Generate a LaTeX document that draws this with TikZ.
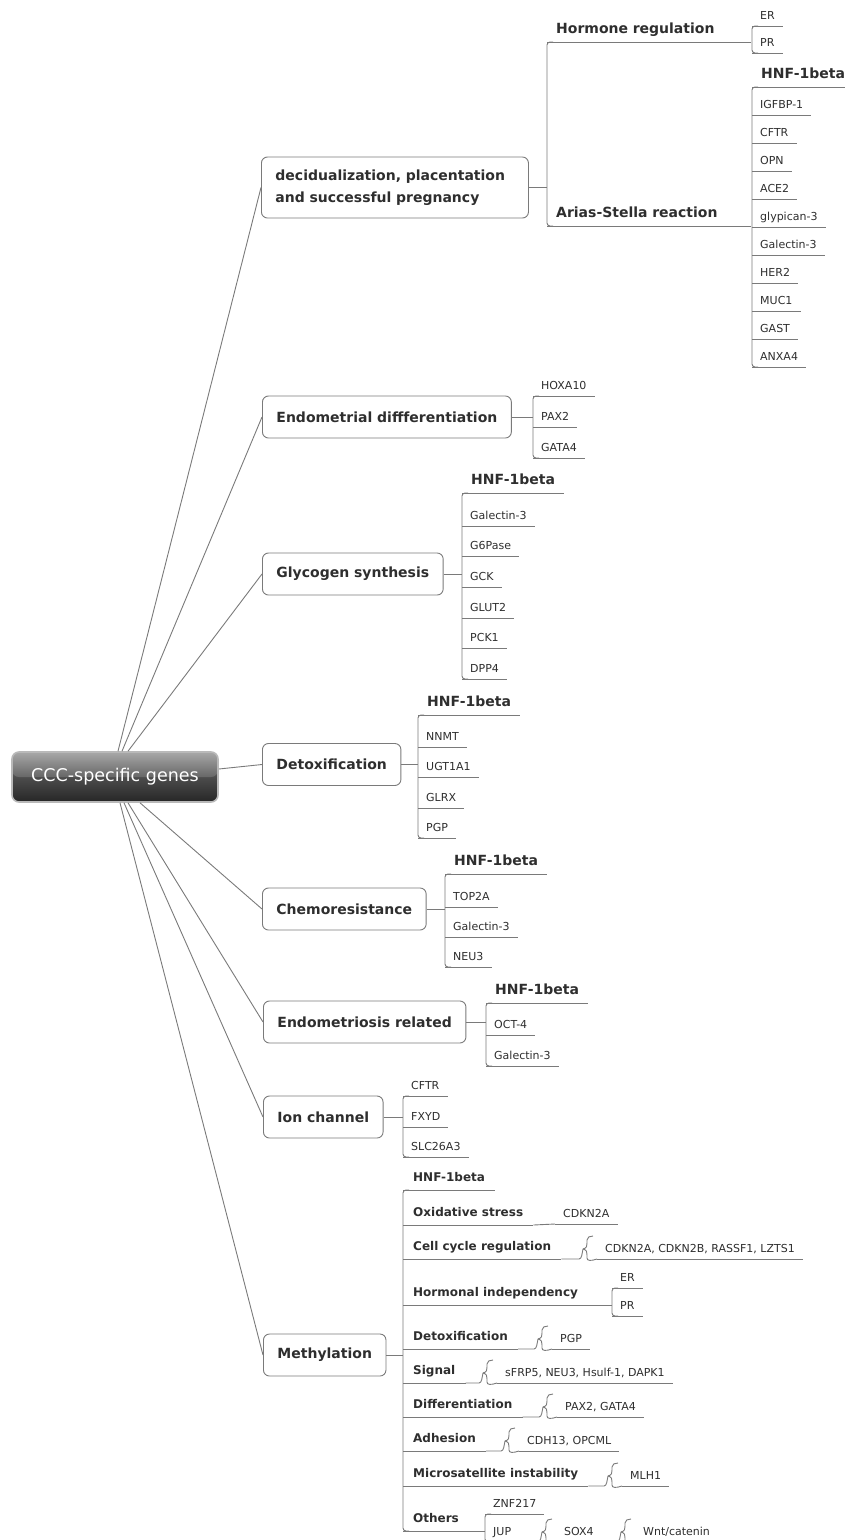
\documentclass[tikz,border=0pt]{standalone}
\usepackage{fontspec}
\setmainfont{DejaVu Sans}

\definecolor{linegray}{HTML}{7A7A7A}
\definecolor{txtgray}{HTML}{2E2E2E}
\newcommand{\rtfont}{\fontsize{17.5}{20}\selectfont}
\newcommand{\bxfont}{\fontsize{14}{22}\selectfont\bfseries}
\newcommand{\tpfont}{\fontsize{14}{16}\selectfont\bfseries}
\newcommand{\mtfont}{\fontsize{12}{14}\selectfont\bfseries}
\newcommand{\gnfont}{\fontsize{11}{13}\selectfont}

\tikzset{
  conn/.style={draw=linegray, line width=0.9pt},
  ul/.style={append after command={(\tikzlastnode.south west) edge[conn] (\tikzlastnode.south east)}},
  rootbox/.style={rounded corners=7pt, draw=gray!55, line width=1.6pt,
    top color=black!40, bottom color=black!85, middle color=black!70,
    text=white, font=\rtfont, minimum width=206pt, minimum height=50pt,
    path picture={\fill[white, opacity=0.15] (path picture bounding box.north west) rectangle (path picture bounding box.east);}},
  branch/.style={conn, rounded corners=6pt, fill=white, text=txtgray, font=\bxfont,
    inner xsep=14pt, minimum height=42pt, anchor=west},
  topic/.style={anchor=south west, text=txtgray, font=\tpfont, inner xsep=9pt,
    inner ysep=4pt, text height=11pt, text depth=4pt, ul},
  mtopic/.style={topic, font=\mtfont, inner xsep=10pt, text height=9.5pt},
  gene/.style={anchor=south west, text=txtgray, font=\gnfont, inner xsep=8pt,
    inner ysep=3.5pt, text height=8.5pt, text depth=2.5pt, ul}
}

% vertical bar joining the underlines of a list
\newcommand{\spine}[2]{\draw[conn, rounded corners=3pt] ([xshift=6pt]#1.south west) -- (#1.south west) -- (#2.south west) -- ([xshift=6pt]#2.south west);}
% curly joint from a topic to its single child
\newcommand{\mbrace}[2]{%
  \begin{scope}[shift={(#2.south west)}]
    \draw[conn] (#1.south east) -- (-18,0) .. controls (-15,0) and (-15,-6) .. (-14,-10)
      .. controls (-10,-11) and (-10,-13) .. (-10,-16) -- (-10,-19)
      .. controls (-10,-22) and (-7,-23) .. (-4,-23);
    \draw[conn] (-14,-10) .. controls (-10,-9) and (-10,-7) .. (-10,-4) -- (-10,-1)
      .. controls (-10,2) and (-6,2) .. (0,0);
  \end{scope}}

\begin{document}
\begin{tikzpicture}[x=1pt, y=-1pt]
\useasboundingbox (0,0) rectangle (845,1540);
\clip (0,0) rectangle (845,1540);

% centre
\node[rootbox] (root) at (115,777) {CCC-specific genes};

% main branches
\node[branch, text width=239pt, align=left, minimum height=61pt] (decid) at (261,187.5) {decidualization, placentation\\and successful pregnancy};
\node[branch] (endo) at (262,417) {Endometrial diffferentiation};
\node[branch] (glyc) at (262,574) {Glycogen synthesis};
\node[branch] (detox) at (262,764.5) {Detoxification};
\node[branch] (chemo) at (262,909) {Chemoresistance};
\node[branch] (endm) at (263,1022) {Endometriosis related};
\node[branch] (ion) at (263,1117) {Ion channel};
\node[branch] (meth) at (263,1355) {Methylation};

\draw[conn] ([xshift=3pt]root.north) -- (decid.west);
\draw[conn] ([xshift=7pt]root.north) -- (endo.west);
\draw[conn] ([xshift=13pt]root.north) -- (glyc.west);
\draw[conn] ([yshift=8pt]root.east) -- (detox.west);
\draw[conn] ([xshift=25pt]root.south) -- (chemo.west);
\draw[conn] ([xshift=13pt]root.south) -- (endm.west);
\draw[conn] ([xshift=9pt]root.south) -- (ion.west);
\draw[conn] ([xshift=5pt]root.south) -- (meth.west);

% decidualization
\node[topic, text width=186pt] (horm) at (547,42) {Hormone regulation};
\node[topic, text width=186pt] (arias) at (547,226) {Arias-Stella reaction};
\spine{horm}{arias}
\draw[conn] (decid.east) -- (decid.east -| horm.south west);
\node[gene] (era) at (752,26) {ER};
\node[gene] (pra) at (752,53) {PR};
\spine{era}{pra}
\node[topic] (hnfa) at (752,87) {HNF-1beta};
\node[gene] (igfbp) at (752,115) {IGFBP-1};
\node[gene] (cftra) at (752,143) {CFTR};
\node[gene] (opn) at (752,171) {OPN};
\node[gene] (ace) at (752,199) {ACE2};
\node[gene] (glyp) at (752,227) {glypican-3};
\node[gene] (gala) at (752,255) {Galectin-3};
\node[gene] (her) at (752,283) {HER2};
\node[gene] (muc) at (752,311) {MUC1};
\node[gene] (gast) at (752,339) {GAST};
\node[gene] (anxa) at (752,367) {ANXA4};
\spine{hnfa}{anxa}

% endometrial differentiation
\node[gene] (hoxa) at (533,396) {HOXA10};
\node[gene] (paxa) at (533,427) {PAX2};
\node[gene] (gataa) at (533,458) {GATA4};
\spine{hoxa}{gataa}
\draw[conn] (endo.east) -- (endo.east -| hoxa.south west);

% glycogen synthesis
\node[topic] (hnfb) at (462,493) {HNF-1beta};
\node[gene] (galb) at (462,526) {Galectin-3};
\node[gene] (g6p) at (462,556) {G6Pase};
\node[gene] (gck) at (462,587) {GCK};
\node[gene] (glut) at (462,618) {GLUT2};
\node[gene] (pck) at (462,648) {PCK1};
\node[gene] (dpp) at (462,679) {DPP4};
\spine{hnfb}{dpp}
\draw[conn] (glyc.east) -- (glyc.east -| hnfb.south west);

% detoxification
\node[topic] (hnfc) at (418,715) {HNF-1beta};
\node[gene] (nnmt) at (418,747) {NNMT};
\node[gene] (ugt) at (418,777) {UGT1A1};
\node[gene] (glrx) at (418,808) {GLRX};
\node[gene] (pgpa) at (418,838) {PGP};
\spine{hnfc}{pgpa}
\draw[conn] (detox.east) -- (detox.east -| hnfc.south west);

% chemoresistance
\node[topic] (hnfd) at (445,874) {HNF-1beta};
\node[gene] (top) at (445,907) {TOP2A};
\node[gene] (galc) at (445,937) {Galectin-3};
\node[gene] (neu) at (445,967) {NEU3};
\spine{hnfd}{neu}
\draw[conn] (chemo.east) -- (chemo.east -| hnfd.south west);

% endometriosis related
\node[topic] (hnfe) at (486,1003) {HNF-1beta};
\node[gene] (oct) at (486,1035) {OCT-4};
\node[gene] (gald) at (486,1066) {Galectin-3};
\spine{hnfe}{gald}
\draw[conn] (endm.east) -- (endm.east -| hnfe.south west);

% ion channel
\node[gene] (cftrb) at (403,1096) {CFTR};
\node[gene] (fxyd) at (403,1127) {FXYD};
\node[gene] (slc) at (403,1157) {SLC26A3};
\spine{cftrb}{slc}
\draw[conn] (ion.east) -- (ion.east -| cftrb.south west);

% methylation
\node[mtopic] (hnff) at (403,1190) {HNF-1beta};
\node[mtopic] (oxi) at (403,1225) {Oxidative stress};
\node[gene] (cdkna) at (555,1224) {CDKN2A};
\draw[conn] (oxi.south east) -- (cdkna.south west);
\node[mtopic] (cell) at (403,1259) {Cell cycle regulation};
\node[gene] (cdknb) at (597,1259) {CDKN2A, CDKN2B, RASSF1, LZTS1};
\mbrace{cell}{cdknb}
\node[mtopic] (hormi) at (403,1305) {Hormonal independency};
\node[gene] (erb) at (612,1288) {ER};
\node[gene] (prb) at (612,1316) {PR};
\spine{erb}{prb}
\draw[conn] (hormi.south east) -- (hormi.south east -| erb.south west);
\node[mtopic] (detm) at (403,1349) {Detoxification};
\node[gene] (pgpb) at (552,1349) {PGP};
\mbrace{detm}{pgpb}
\node[mtopic] (sig) at (403,1383) {Signal};
\node[gene] (sfrp) at (497,1383) {sFRP5, NEU3, Hsulf-1, DAPK1};
\mbrace{sig}{sfrp}
\node[mtopic] (diff) at (403,1417) {Differentiation};
\node[gene] (paxb) at (557,1417) {PAX2, GATA4};
\mbrace{diff}{paxb}
\node[mtopic] (adh) at (403,1451) {Adhesion};
\node[gene] (cdh) at (519,1451) {CDH13, OPCML};
\mbrace{adh}{cdh}
\node[mtopic] (msi) at (403,1486) {Microsatellite instability};
\node[gene] (mlh) at (622,1486) {MLH1};
\mbrace{msi}{mlh}
\node[mtopic] (oth) at (403,1531) {Others};
\spine{hnff}{oth}
\draw[conn] (meth.east) -- (meth.east -| hnff.south west);
\node[gene] (znf) at (485,1514) {ZNF217};
\node[gene] (jup) at (485,1542) {JUP};
\spine{znf}{jup}
\draw[conn] (oth.south east) -- (oth.south east -| znf.south west);
\node[gene] (sox) at (556,1542) {SOX4};
\mbrace{jup}{sox}
\node[gene] (wnt) at (635,1542) {Wnt/catenin};
\mbrace{sox}{wnt}
\end{tikzpicture}
\end{document}
